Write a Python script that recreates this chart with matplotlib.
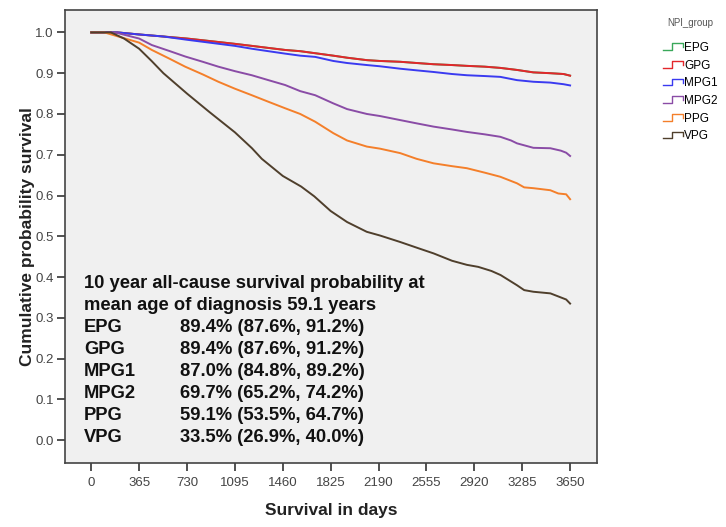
import numpy as np
import matplotlib
matplotlib.use("Agg")
from matplotlib import pyplot as plt
from matplotlib.lines import Line2D
from matplotlib.legend_handler import HandlerBase

# survival curves (days, cumulative survival)
gpg_days = [0, 200, 365, 550, 730, 900, 1095, 1224, 1350, 1478, 1593, 1707, 1845, 1950, 2101, 2200,
            2355, 2480, 2609, 2750, 2863, 3000, 3118, 3245, 3370, 3499, 3600, 3650]
gpg_surv = [1.0, 1.0, 0.995, 0.99, 0.985, 0.979, 0.972, 0.967, 0.962, 0.957, 0.954, 0.949, 0.943, 0.938,
            0.932, 0.93, 0.928, 0.925, 0.922, 0.92, 0.918, 0.916, 0.913, 0.908, 0.902, 0.9, 0.898, 0.894]
epg_days = list(gpg_days)
epg_surv = list(gpg_surv)
mpg1_days = [0, 200, 365, 550, 730, 900, 1095, 1224, 1350, 1478, 1593, 1707, 1845, 1950, 2101, 2200,
             2355, 2480, 2609, 2750, 2863, 3000, 3118, 3245, 3370, 3499, 3600, 3650]
mpg1_surv = [1.0, 1.0, 0.995, 0.99, 0.982, 0.975, 0.967, 0.96, 0.954, 0.948, 0.943, 0.94, 0.93, 0.925,
             0.92, 0.917, 0.911, 0.907, 0.903, 0.898, 0.895, 0.893, 0.891, 0.883, 0.879, 0.877, 0.873, 0.87]
mpg2_days = [0, 150, 206, 365, 462, 600, 716, 850, 969, 1095, 1224, 1350, 1478, 1593, 1707, 1845, 1950,
             2101, 2200, 2355, 2480, 2609, 2750, 2863, 3000, 3118, 3200, 3245, 3370, 3499, 3580, 3620, 3650]
mpg2_surv = [1.0, 1.0, 0.998, 0.985, 0.969, 0.954, 0.941, 0.928, 0.916, 0.905, 0.895, 0.883, 0.871, 0.856,
             0.846, 0.826, 0.812, 0.8, 0.795, 0.785, 0.777, 0.769, 0.762, 0.756, 0.75, 0.744, 0.735, 0.728,
             0.717, 0.716, 0.71, 0.705, 0.697]
ppg_days = [0, 100, 206, 365, 462, 600, 716, 850, 969, 1095, 1224, 1350, 1478, 1593, 1707, 1845, 1950,
            2101, 2200, 2355, 2480, 2609, 2750, 2863, 3000, 3118, 3245, 3300, 3370, 3499, 3560, 3620, 3650]
ppg_surv = [1.0, 1.0, 0.99, 0.975, 0.957, 0.935, 0.916, 0.897, 0.879, 0.862, 0.846, 0.83, 0.814, 0.8,
            0.781, 0.753, 0.735, 0.72, 0.715, 0.704, 0.69, 0.679, 0.672, 0.667, 0.656, 0.646, 0.63, 0.62,
            0.618, 0.613, 0.605, 0.603, 0.591]
vpg_days = [0, 150, 250, 365, 460, 550, 730, 900, 1095, 1225, 1300, 1460, 1600, 1700, 1825, 1950, 2100,
            2200, 2355, 2500, 2610, 2750, 2863, 2950, 3050, 3120, 3245, 3300, 3370, 3500, 3580, 3620, 3650]
vpg_surv = [1.0, 1.0, 0.985, 0.96, 0.93, 0.9, 0.85, 0.805, 0.755, 0.716, 0.69, 0.648, 0.622, 0.598, 0.562,
            0.535, 0.511, 0.502, 0.486, 0.47, 0.458, 0.44, 0.43, 0.425, 0.415, 0.405, 0.38, 0.368, 0.364,
            0.36, 0.35, 0.345, 0.335]

groups = ["EPG", "GPG", "MPG1", "MPG2", "PPG", "VPG"]
colors = ["#3aa85a", "#e3262b", "#3a3af0", "#8a4ca6", "#f47f2a", "#4f3f2c"]
curves = [(epg_days, epg_surv), (gpg_days, gpg_surv), (mpg1_days, mpg1_surv),
          (mpg2_days, mpg2_surv), (ppg_days, ppg_surv), (vpg_days, vpg_surv)]

estimates = ["89.4% (87.6%, 91.2%)", "89.4% (87.6%, 91.2%)", "87.0% (84.8%, 89.2%)",
             "69.7% (65.2%, 74.2%)", "59.1% (53.5%, 64.7%)", "33.5% (26.9%, 40.0%)"]
x_ticks = [0, 365, 730, 1095, 1460, 1825, 2190, 2555, 2920, 3285, 3650]
y_ticks = [0.0, 0.1, 0.2, 0.3, 0.4, 0.5, 0.6, 0.7, 0.8, 0.9, 1.0]

plt.rcParams['font.family'] = ['Liberation Sans', 'DejaVu Sans']


class StepHandler(HandlerBase):
    # little step glyph like the SPSS legend
    def create_artists(self, legend, orig_handle, xdescent, ydescent, width, height, fontsize, trans):
        x = np.array([0, 0.45, 0.45, 1.0, 1.0]) * width - xdescent
        y = np.array([0.1, 0.1, 0.9, 0.9, 0.45]) * height - ydescent
        line = Line2D(x, y, color=orig_handle.get_color(), lw=1.0)
        line.set_transform(trans)
        return [line]


fig = plt.figure(figsize=(7.26, 5.27), dpi=100)
ax = fig.add_axes([65 / 726, 1 - 463 / 527, 532 / 726, 453 / 527])
ax.set_facecolor("#f0f0f0")

handles = []
for name, col, (d, s) in zip(groups, colors, curves):
    h, = ax.plot(d, s, color=col, lw=1.4, label=name)
    handles.append(h)

ax.set_xlim(-200, 3855)
ax.set_ylim(-0.056, 1.055)
ax.set_xticks(x_ticks)
ax.set_yticks(y_ticks)
ax.set_yticklabels([f"{v:.1f}" for v in y_ticks])
ax.tick_params(axis="both", length=6, width=1.2, color="#333333", labelsize=9.5,
               labelcolor="#444444", pad=2)
ax.tick_params(axis="x", pad=4)
for sp in ax.spines.values():
    sp.set_color("#444444")
    sp.set_linewidth(1.2)

ax.set_xlabel("Survival in days", fontsize=12.5, fontweight="bold", color="#222222")
ax.set_ylabel("Cumulative probability survival", fontsize=12.5, fontweight="bold", color="#222222")
ax.xaxis.set_label_coords(0.5, -0.088)
ax.yaxis.set_label_coords(-0.056, 0.5)

# annotation block
fs = 13.2
line_y = [283, 305, 327, 349, 371, 393, 415, 437]
tx = (84 - 65) / 532
tx2 = (180 - 65) / 532
ax.text(tx, (463 - line_y[0]) / 453, "10 year all-cause survival probability at", transform=ax.transAxes,
        fontsize=fs, fontweight="bold", va="center", color="#111111")
ax.text(tx, (463 - line_y[1]) / 453, "mean age of diagnosis 59.1 years", transform=ax.transAxes,
        fontsize=fs, fontweight="bold", va="center", color="#111111")
for i, (g, e) in enumerate(zip(groups, estimates)):
    yy = (463 - line_y[i + 2]) / 453
    ax.text(tx, yy, g, transform=ax.transAxes, fontsize=fs, fontweight="bold", va="center", color="#111111")
    ax.text(tx2, yy, e, transform=ax.transAxes, fontsize=fs, fontweight="bold", va="center", color="#111111")

fig.text(690 / 726, 1 - 23 / 527, "NPI_group", fontsize=7, color="#555555", ha="center", va="center")
leg = fig.legend(handles=handles, labels=groups, loc="upper left", bbox_to_anchor=(657 / 726, 1 - 36 / 527),
                 frameon=False, fontsize=8.5, handler_map={Line2D: StepHandler()}, handlelength=1.7,
                 handletextpad=0.1, labelspacing=0.48, borderpad=0)

fig.savefig("out.png", dpi=100)
